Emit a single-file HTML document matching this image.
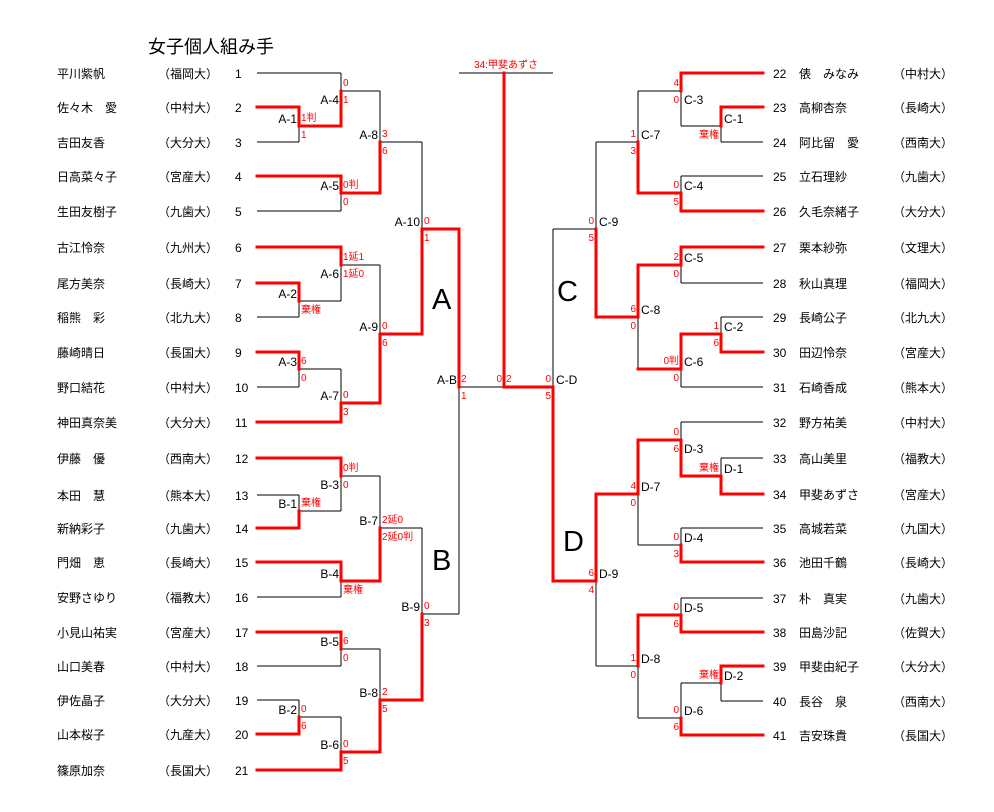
<!DOCTYPE html>
<html><head><meta charset="utf-8"><style>
html,body{margin:0;padding:0;background:#fff;}
svg{display:block;}
text{font-family:"Liberation Sans","Noto Sans CJK JP",sans-serif;}
.n{font-size:12px;fill:#000;}
.l{font-size:12px;fill:#000;}
.s{font-size:10px;fill:#f00;}
.big{font-size:29px;fill:#000;}
</style></head><body>
<svg width="994" height="812" viewBox="0 0 994 812" xmlns="http://www.w3.org/2000/svg">
<text x="148" y="53" style="font-size:18px" fill="#000">女子個人組み手</text>
<g fill="none" stroke="#000" stroke-width="1" shape-rendering="crispEdges">
<path d="M257 73H341M257 142H299M257 211H341M257 317H299M257 387H299M257 495H299M257 597H341M257 666H341M257 700H299"/>
<path d="M299 107V142M299 283V317M299 352V387M299 495V528M299 700V734"/>
<path d="M341 73V126M341 176V211M341 247V301M341 369V422M341 458V511M341 562V597M341 632V666M341 717V770"/>
<path d="M380 91V193M380 265V403M380 476V581M380 649V752M422 142V334M422 528V700M459 229V614M553 229V581"/>
<path d="M299 301H341M299 369H341M341 91H380M341 265H380M380 142H422M299 511H341M299 717H341M341 476H380M341 649H380M380 528H422M422 614H459M459 387H504M459 73H553"/>
<path d="M721 142H763M681 176H763M681 283H763M721 317H763M681 387H763M681 422H763M721 458H763M681 528H763M681 598H763M721 701H763"/>
<path d="M721 107V142M721 317V352M721 458V494M721 666V701"/>
<path d="M681 73V126M681 176V211M681 247V283M681 334V387M681 422V476M681 528V562M681 598V632M681 683V735"/>
<path d="M638 91V193M638 265V369M638 440V545M638 615V718M596 142V317M596 494V666"/>
<path d="M681 126H721M638 91H681M596 142H638M553 229H596M681 683H721M638 545H681M638 718H681M596 666H638"/>
</g>
<g fill="none" stroke="#f00" stroke-width="3" stroke-linecap="square" stroke-linejoin="miter">
<path d="M257 107H299V126H341V91"/>
<path d="M257 176H341V193H380V142"/>
<path d="M257 247H341V265"/>
<path d="M257 283H299V301"/>
<path d="M257 352H299V369"/>
<path d="M257 422H341V403H380V334H422V229H459V387"/>
<path d="M257 458H341V476"/>
<path d="M257 528H299V511"/>
<path d="M257 562H341V581H380V528"/>
<path d="M257 632H341V649"/>
<path d="M257 734H299V717"/>
<path d="M257 770H341V752H380V700H422V614"/>
<path d="M504 73V387H553V581H596V494H638V440H681V476H721V494H763"/>
<path d="M763 73H681V91"/>
<path d="M763 107H721V126"/>
<path d="M763 211H681V193H638V142"/>
<path d="M763 247H681V265H638V317H596V229"/>
<path d="M763 352H721V334H681V369H638"/>
<path d="M763 562H681V545"/>
<path d="M763 632H681V615H638V666"/>
<path d="M763 666H721V683"/>
<path d="M763 735H681V718"/>
</g>
<text x="506" y="68" class="s" text-anchor="middle">34:甲斐あずさ</text>
<text x="432" y="309" class="big">A</text>
<text x="432" y="570" class="big">B</text>
<text x="557" y="301" class="big">C</text>
<text x="563" y="551" class="big">D</text>

<g class="n">
<text x="57" y="78">平川紫帆</text><text x="158" y="78">（福岡大）</text><text x="235" y="78">1</text>
<text x="57" y="112">佐々木　愛</text><text x="158" y="112">（中村大）</text><text x="235" y="112">2</text>
<text x="57" y="147">吉田友香</text><text x="158" y="147">（大分大）</text><text x="235" y="147">3</text>
<text x="57" y="181">日高菜々子</text><text x="158" y="181">（宮産大）</text><text x="235" y="181">4</text>
<text x="57" y="216">生田友樹子</text><text x="158" y="216">（九歯大）</text><text x="235" y="216">5</text>
<text x="57" y="252">古江怜奈</text><text x="158" y="252">（九州大）</text><text x="235" y="252">6</text>
<text x="57" y="288">尾方美奈</text><text x="158" y="288">（長崎大）</text><text x="235" y="288">7</text>
<text x="57" y="322">稲熊　彩</text><text x="158" y="322">（北九大）</text><text x="235" y="322">8</text>
<text x="57" y="357">藤崎晴日</text><text x="158" y="357">（長国大）</text><text x="235" y="357">9</text>
<text x="57" y="392">野口結花</text><text x="158" y="392">（中村大）</text><text x="235" y="392">10</text>
<text x="57" y="427">神田真奈美</text><text x="158" y="427">（大分大）</text><text x="235" y="427">11</text>
<text x="57" y="463">伊藤　優</text><text x="158" y="463">（西南大）</text><text x="235" y="463">12</text>
<text x="57" y="500">本田　慧</text><text x="158" y="500">（熊本大）</text><text x="235" y="500">13</text>
<text x="57" y="533">新納彩子</text><text x="158" y="533">（九歯大）</text><text x="235" y="533">14</text>
<text x="57" y="567">門畑　恵</text><text x="158" y="567">（長崎大）</text><text x="235" y="567">15</text>
<text x="57" y="602">安野さゆり</text><text x="158" y="602">（福教大）</text><text x="235" y="602">16</text>
<text x="57" y="637">小見山祐実</text><text x="158" y="637">（宮産大）</text><text x="235" y="637">17</text>
<text x="57" y="671">山口美春</text><text x="158" y="671">（中村大）</text><text x="235" y="671">18</text>
<text x="57" y="705">伊佐晶子</text><text x="158" y="705">（大分大）</text><text x="235" y="705">19</text>
<text x="57" y="739">山本桜子</text><text x="158" y="739">（九産大）</text><text x="235" y="739">20</text>
<text x="57" y="775">篠原加奈</text><text x="158" y="775">（長国大）</text><text x="235" y="775">21</text>
</g>
<g class="n">
<text x="773" y="78">22</text><text x="799" y="78">俵　みなみ</text><text x="893" y="78">（中村大）</text>
<text x="773" y="112">23</text><text x="799" y="112">高柳杏奈</text><text x="893" y="112">（長崎大）</text>
<text x="773" y="147">24</text><text x="799" y="147">阿比留　愛</text><text x="893" y="147">（西南大）</text>
<text x="773" y="181">25</text><text x="799" y="181">立石理紗</text><text x="893" y="181">（九歯大）</text>
<text x="773" y="216">26</text><text x="799" y="216">久毛奈緒子</text><text x="893" y="216">（大分大）</text>
<text x="773" y="252">27</text><text x="799" y="252">栗本紗弥</text><text x="893" y="252">（文理大）</text>
<text x="773" y="288">28</text><text x="799" y="288">秋山真理</text><text x="893" y="288">（福岡大）</text>
<text x="773" y="322">29</text><text x="799" y="322">長崎公子</text><text x="893" y="322">（北九大）</text>
<text x="773" y="357">30</text><text x="799" y="357">田辺怜奈</text><text x="893" y="357">（宮産大）</text>
<text x="773" y="392">31</text><text x="799" y="392">石崎香成</text><text x="893" y="392">（熊本大）</text>
<text x="773" y="427">32</text><text x="799" y="427">野方祐美</text><text x="893" y="427">（中村大）</text>
<text x="773" y="463">33</text><text x="799" y="463">高山美里</text><text x="893" y="463">（福教大）</text>
<text x="773" y="499">34</text><text x="799" y="499">甲斐あずさ</text><text x="893" y="499">（宮産大）</text>
<text x="773" y="533">35</text><text x="799" y="533">高城若菜</text><text x="893" y="533">（九国大）</text>
<text x="773" y="567">36</text><text x="799" y="567">池田千鶴</text><text x="893" y="567">（長崎大）</text>
<text x="773" y="603">37</text><text x="799" y="603">朴　真実</text><text x="893" y="603">（九歯大）</text>
<text x="773" y="637">38</text><text x="799" y="637">田島沙記</text><text x="893" y="637">（佐賀大）</text>
<text x="773" y="671">39</text><text x="799" y="671">甲斐由紀子</text><text x="893" y="671">（大分大）</text>
<text x="773" y="706">40</text><text x="799" y="706">長谷　泉</text><text x="893" y="706">（西南大）</text>
<text x="773" y="740">41</text><text x="799" y="740">吉安珠貴</text><text x="893" y="740">（長国大）</text>
</g>
<g class="l" text-anchor="end">
<text x="297" y="123">A-1</text><text x="339" y="104">A-4</text><text x="378" y="139">A-8</text>
<text x="339" y="190">A-5</text><text x="420" y="226">A-10</text><text x="339" y="278">A-6</text>
<text x="297" y="298">A-2</text><text x="378" y="331">A-9</text><text x="297" y="366">A-3</text>
<text x="339" y="400">A-7</text><text x="457" y="384">A-B</text>
<text x="339" y="489">B-3</text><text x="297" y="508">B-1</text><text x="378" y="525">B-7</text>
<text x="339" y="578">B-4</text><text x="420" y="611">B-9</text><text x="339" y="646">B-5</text>
<text x="378" y="697">B-8</text><text x="297" y="714">B-2</text><text x="339" y="749">B-6</text>
</g>
<g class="l">
<text x="556" y="384">C-D</text><text x="599" y="226">C-9</text><text x="641" y="139">C-7</text>
<text x="684" y="104">C-3</text><text x="724" y="123">C-1</text><text x="684" y="190">C-4</text>
<text x="684" y="262">C-5</text><text x="641" y="314">C-8</text><text x="724" y="331">C-2</text>
<text x="684" y="366">C-6</text><text x="684" y="453">D-3</text><text x="724" y="473">D-1</text>
<text x="641" y="491">D-7</text><text x="684" y="542">D-4</text><text x="599" y="578">D-9</text>
<text x="684" y="612">D-5</text><text x="641" y="663">D-8</text><text x="724" y="680">D-2</text>
<text x="684" y="715">D-6</text>
</g>
<g class="s">
<text x="301" y="121">1判</text><text x="301" y="138">1</text>
<text x="301" y="313">棄権</text>
<text x="301" y="364">6</text><text x="301" y="381">0</text>
<text x="343" y="86">0</text><text x="343" y="103">1</text>
<text x="343" y="188">0判</text><text x="343" y="205">0</text>
<text x="343" y="260">1延1</text><text x="343" y="277">1延0</text>
<text x="343" y="398">0</text><text x="343" y="415">3</text>
<text x="382" y="137">3</text><text x="382" y="154">6</text>
<text x="382" y="329">0</text><text x="382" y="346">6</text>
<text x="424" y="224">0</text><text x="424" y="241">1</text>
<text x="461" y="382">2</text><text x="461" y="399">1</text>
<text x="301" y="506">棄権</text>
<text x="301" y="712">0</text><text x="301" y="729">6</text>
<text x="343" y="471">0判</text><text x="343" y="488">0</text>
<text x="343" y="593">棄権</text>
<text x="343" y="644">6</text><text x="343" y="661">0</text>
<text x="343" y="747">0</text><text x="343" y="764">5</text>
<text x="382" y="523">2延0</text><text x="382" y="540">2延0判</text>
<text x="382" y="695">2</text><text x="382" y="712">5</text>
<text x="424" y="609">0</text><text x="424" y="626">3</text>
<text x="506" y="382">2</text>
</g>
<g class="s" text-anchor="end">
<text x="502" y="382">0</text>
<text x="551" y="382">0</text><text x="551" y="399">5</text>
<text x="719" y="138">棄権</text>
<text x="719" y="329">1</text><text x="719" y="346">6</text>
<text x="679" y="86">4</text><text x="679" y="103">0</text>
<text x="679" y="188">0</text><text x="679" y="205">5</text>
<text x="679" y="260">2</text><text x="679" y="277">0</text>
<text x="679" y="364">0判</text><text x="679" y="381">0</text>
<text x="636" y="137">1</text><text x="636" y="154">3</text>
<text x="636" y="312">6</text><text x="636" y="329">0</text>
<text x="594" y="224">0</text><text x="594" y="241">5</text>
<text x="719" y="471">棄権</text>
<text x="719" y="678">棄権</text>
<text x="679" y="435">0</text><text x="679" y="452">6</text>
<text x="679" y="540">0</text><text x="679" y="557">3</text>
<text x="679" y="610">0</text><text x="679" y="627">6</text>
<text x="679" y="713">0</text><text x="679" y="730">6</text>
<text x="636" y="489">4</text><text x="636" y="506">0</text>
<text x="636" y="661">1</text><text x="636" y="678">0</text>
<text x="594" y="576">6</text><text x="594" y="593">4</text>
</g>
</svg>
</body></html>
